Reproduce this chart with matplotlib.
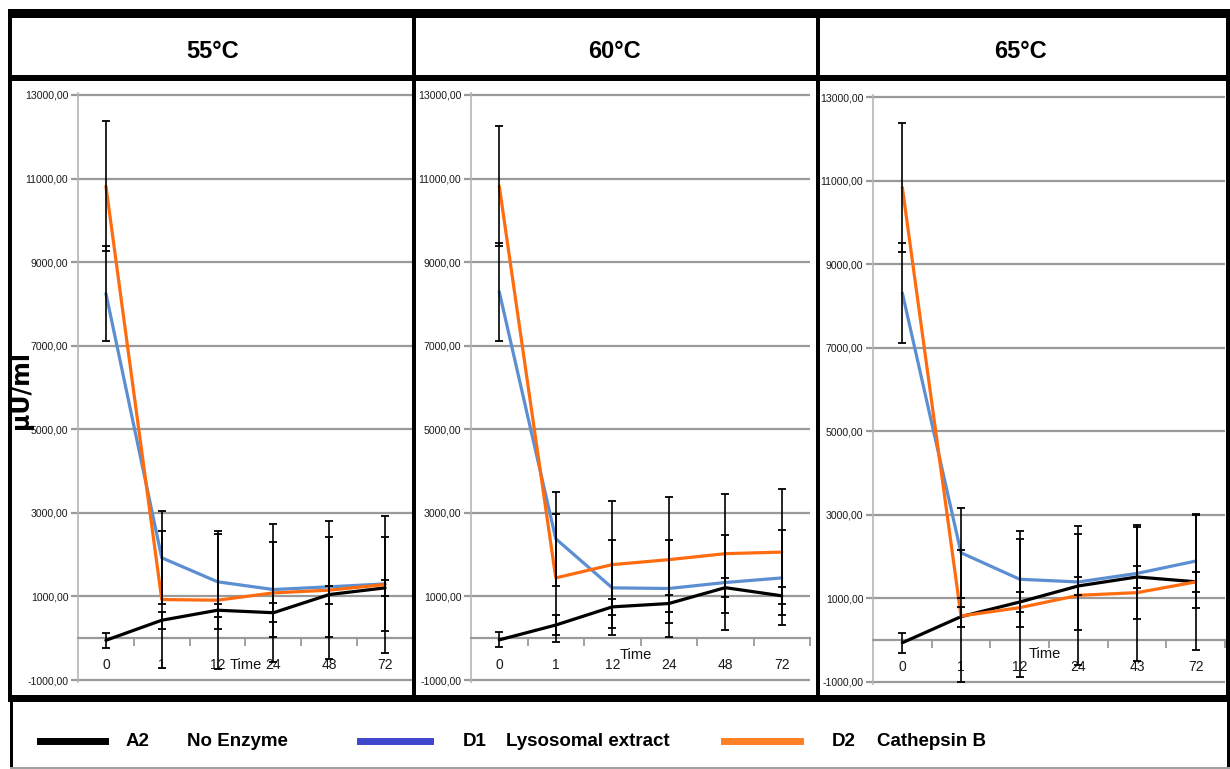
import matplotlib
matplotlib.use('Agg')
import matplotlib.pyplot as plt
from matplotlib.patches import Rectangle
from matplotlib.lines import Line2D
from matplotlib.ticker import FuncFormatter

plt.rcParams['font.family'] = ['Liberation Sans', 'DejaVu Sans']

# incubation temperatures, one panel each
temps = ['55°C', '60°C', '65°C']

# sampling times (h) on the category axis
times_55 = ['0', '1', '12', '24', '48', '72']
times_60 = ['0', '1', '12', '24', '48', '72']
times_65 = ['0', '1', '12', '24', '43', '72']

# mean activity (µU/ml)
a2_55 = [-50, 430, 670, 610, 1045, 1205]
d1_55 = [8250, 1925, 1350, 1165, 1230, 1300]
d2_55 = [10820, 925, 910, 1085, 1150, 1285]

a2_60 = [-40, 315, 750, 830, 1210, 1015]
d1_60 = [8290, 2380, 1205, 1190, 1333, 1443]
d2_60 = [10820, 1443, 1761, 1880, 2023, 2061]

a2_65 = [-60, 565, 915, 1300, 1515, 1400]
d1_65 = [8316, 2095, 1460, 1395, 1600, 1895]
d2_65 = [10842, 580, 780, 1075, 1140, 1395]

# standard deviations
a2_55_sd = [180, 200, 160, 230, 215, 200]
d1_55_sd = [1140, 1115, 1133, 1135, 1200, 1130]
d2_55_sd = [1560, 1640, 1650, 1660, 1650, 1650]

a2_60_sd = [180, 240, 190, 200, 220, 200]
d1_60_sd = [1170, 1130, 1135, 1150, 1130, 1135]
d2_60_sd = [1440, 1530, 1515, 1510, 1430, 1510]

a2_65_sd = [245, 240, 240, 220, 270, 240]
d1_65_sd = [1195, 1075, 1150, 1150, 1100, 1115]
d2_65_sd = [1540, 1590, 1650, 1660, 1630, 1625]

series_names = ['A2', 'D1', 'D2']
series_labels = ['No Enzyme', 'Lysosomal extract', 'Cathepsin B']

W, H = 1230, 769
line_colors = ['#000000', '#5b8fd2', '#ff6c10']
legend_colors = ['#000000', '#3f48cc', '#ff7f27']
grid_color = '#9a9a9a'

panel_data = [
    (times_55, [a2_55, d1_55, d2_55], [a2_55_sd, d1_55_sd, d2_55_sd]),
    (times_60, [a2_60, d1_60, d2_60], [a2_60_sd, d1_60_sd, d2_60_sd]),
    (times_65, [a2_65, d1_65, d2_65], [a2_65_sd, d1_65_sd, d2_65_sd]),
]

# plot areas in pixels: left, right, y of 13000, y of -1000
panel_px = [(78, 413, 95, 680), (471, 810, 95, 680), (873, 1225, 97.3, 682)]
time_pos = [(2.5, -630), (2.42, -400), (2.42, -335)]
title_x = [213, 614, 1020]
cat_px = 59.0


def fig_rect(left, top, right, bottom):
    return [left / W, 1 - bottom / H, (right - left) / W, (bottom - top) / H]


def fmt_val(v, pos):
    return ('%.2f' % v).replace('.', ',')


fig = plt.figure(figsize=(W / 100, H / 100), dpi=100)
fig.patch.set_facecolor('white')

for k, (times, means, sds) in enumerate(panel_data):
    left, right, top, bottom = panel_px[k]
    pad = 50 * (bottom - top) / 14000.0
    ax = fig.add_axes(fig_rect(left, top - pad, right, bottom + pad))
    ax.set_facecolor('none')
    ax.set_ylim(-1050, 13050)
    ax.set_xlim(-0.5, -0.5 + (right - left) / cat_px)

    x = list(range(len(times)))
    for vals, col in zip(means, line_colors):
        ax.plot(x, vals, color=col, lw=2.3, solid_joinstyle='round',
                solid_capstyle='round', zorder=3)
    for vals, sd in zip(means, sds):
        ax.errorbar(x, vals, yerr=sd, fmt='none', ecolor='black',
                    elinewidth=1.2, capsize=2.6, capthick=1.3, zorder=4)

    ax.set_yticks(range(-1000, 13001, 2000))
    ax.yaxis.set_major_formatter(FuncFormatter(fmt_val))
    ax.yaxis.grid(True, color=grid_color, lw=1.6)
    ax.set_axisbelow(True)
    ax.tick_params(axis='y', length=5, width=1.6, color=grid_color,
                   labelsize=7.6, labelcolor='#1a1a1a', pad=2)

    ax.set_xticks([i + 0.5 for i in range(len(times))])
    ax.set_xticklabels([])
    ax.set_xticks(x, minor=True)
    ax.set_xticklabels(times, minor=True)
    ax.tick_params(axis='x', which='major', length=6, width=1.3, color=grid_color)
    ax.tick_params(axis='x', which='minor', length=0, labelsize=10,
                   labelcolor='#1a1a1a', pad=14)

    for side in ['top', 'right']:
        ax.spines[side].set_visible(False)
    ax.spines['left'].set_color('#b5b5b5')
    ax.spines['left'].set_linewidth(1.2)
    ax.spines['bottom'].set_position(('data', 0))
    ax.spines['bottom'].set_color(grid_color)
    ax.spines['bottom'].set_linewidth(1.6)

    ax.text(time_pos[k][0], time_pos[k][1], 'Time', ha='center', va='center',
            fontsize=10.5, color='#111111')

    fig.text(title_x[k] / W, 1 - 52 / H, temps[k], ha='center', va='center',
             fontsize=17, fontweight='bold')

fig.text(21 / W, 1 - 390 / H, 'µU/ml', rotation=90, ha='center', va='center',
         fontsize=17, fontweight='bold', family=['DejaVu Sans'])

# table frame around the panels
frame = [
    (8, 9, 1230, 18),
    (8, 75, 1230, 81),
    (8, 9, 12, 702),
    (1226, 9, 1230, 702),
    (412, 18, 416, 700),
    (816, 18, 820, 700),
    (8, 695, 1230, 702),
    (10, 702, 13, 769),
    (1227, 702, 1230, 769),
]
for x0, y0, x1, y1 in frame:
    fig.add_artist(Rectangle((x0 / W, 1 - y1 / H), (x1 - x0) / W, (y1 - y0) / H,
                             transform=fig.transFigure, facecolor='black',
                             edgecolor='none', zorder=10))
fig.add_artist(Rectangle((10 / W, 0), 1220 / W, 2.5 / H, transform=fig.transFigure,
                         facecolor='#a0a0a0', edgecolor='none', zorder=10))

# legend row
handle_px = [(40, 105), (360, 430), (724, 800)]
code_px = [126, 463, 832]
name_px = [187, 506, 877]
ly = 1 - 741 / H
for k in range(3):
    x0, x1 = handle_px[k]
    fig.add_artist(Line2D([x0 / W, x1 / W], [ly, ly], transform=fig.transFigure,
                          color=legend_colors[k], lw=5))
    fig.text(code_px[k] / W, ly, series_names[k], ha='left', va='center',
             fontsize=13.5, fontweight='bold')
    fig.text(name_px[k] / W, ly, series_labels[k], ha='left', va='center',
             fontsize=13.5, fontweight='bold')

fig.savefig('out.png', dpi=100)
